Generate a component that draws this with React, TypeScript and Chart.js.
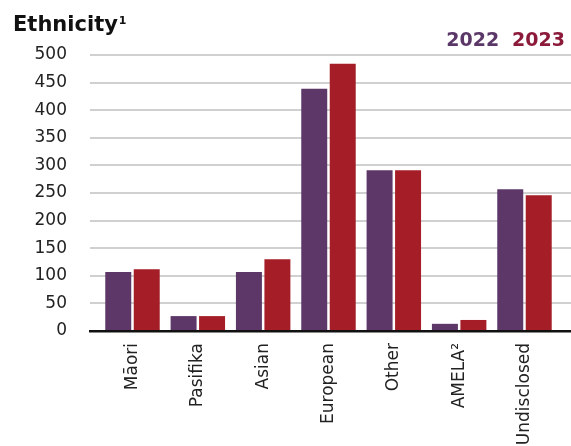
import React, { useEffect, useRef } from "react";
import { Chart, registerables } from "chart.js";

Chart.register(...registerables);

const categories = ["Māori", "Pasifika", "Asian", "European", "Other", "AMELA²", "Undisclosed"];
const values2022 = [107, 27, 107, 439, 291, 13, 257];
const values2023 = [112, 27, 130, 484, 291, 20, 246];
const seriesLabels = ["2022", "2023"];
const barColors = ["#5C3768", "#A51D27"];
const legendColors = ["#5B3768", "#8C1A3A"];
const titleText = "Ethnicity";
const titleNote = "1";
const yMin = 0;
const yMax = 500;
const yStep = 50;

const FONT = '"DejaVu Sans", sans-serif';

const headerPlugin = {
  id: "header",
  afterDraw(chart: any) {
    const ctx = chart.ctx;
    ctx.save();
    ctx.textBaseline = "alphabetic";
    ctx.textAlign = "left";
    ctx.fillStyle = "#111111";
    ctx.font = `bold 21px ${FONT}`;
    ctx.fillText(titleText, 13, 31);
    const w = ctx.measureText(titleText).width;
    ctx.font = `bold 11px ${FONT}`;
    ctx.fillText(titleNote, 13 + w + 1, 24);

    ctx.font = `bold 19px ${FONT}`;
    ctx.textAlign = "right";
    let right = 565;
    for (let i = seriesLabels.length - 1; i >= 0; i--) {
      ctx.fillStyle = legendColors[i];
      ctx.fillText(seriesLabels[i], right, 46);
      right -= ctx.measureText(seriesLabels[i]).width + 13;
    }
    ctx.restore();
  },
};

export default function App() {
  const ref = useRef<HTMLCanvasElement | null>(null);
  useEffect(() => {
    if (!ref.current) return;
    const chart = new Chart(ref.current, {
      type: "bar",
      data: {
        labels: categories.map((_, i) => i),
        datasets: [
          { label: seriesLabels[0], data: values2022, backgroundColor: barColors[0] },
          { label: seriesLabels[1], data: values2023, backgroundColor: barColors[1] },
        ],
      },
      options: {
        responsive: false,
        animation: false,
        events: [],
        layout: { padding: { top: 55, left: 0, right: 0, bottom: 0 } },
        datasets: {
          bar: { categoryPercentage: 0.872, barPercentage: 0.912 },
        },
        plugins: {
          legend: { display: false },
          title: { display: false },
          tooltip: { enabled: false },
        },
        scales: {
          x: {
            type: "linear",
            offset: false,
            min: -0.6505,
            max: 6.712,
            grid: { display: false, drawTicks: false },
            border: { display: true, color: "#111111", width: 2.5 },
            afterFit(scale: any) {
              scale.height = 115;
            },
            ticks: {
              stepSize: 1,
              autoSkip: false,
              includeBounds: false,
              minRotation: 90,
              maxRotation: 90,
              padding: 12,
              color: "#222222",
              font: { family: FONT, size: 17 },
              callback: (v: any) => (Number.isInteger(v) ? categories[v] ?? "" : ""),
            },
          },
          y: {
            min: yMin,
            max: yMax,
            border: { display: false },
            grid: { color: "#d0d0d0", lineWidth: 2, drawTicks: false },
            afterFit(scale: any) {
              scale.width = 90;
            },
            ticks: {
              stepSize: yStep,
              padding: 23,
              color: "#222222",
              font: { family: FONT, size: 17 },
            },
          },
        },
      },
      plugins: [headerPlugin],
    } as any);
    return () => chart.destroy();
  }, []);
  return (
    <div style={{ position: "fixed", left: 0, top: 0, width: 571, height: 446, background: "#ffffff" }}>
      <canvas ref={ref} width={571} height={446} style={{ display: "block" }} />
    </div>
  );
}
